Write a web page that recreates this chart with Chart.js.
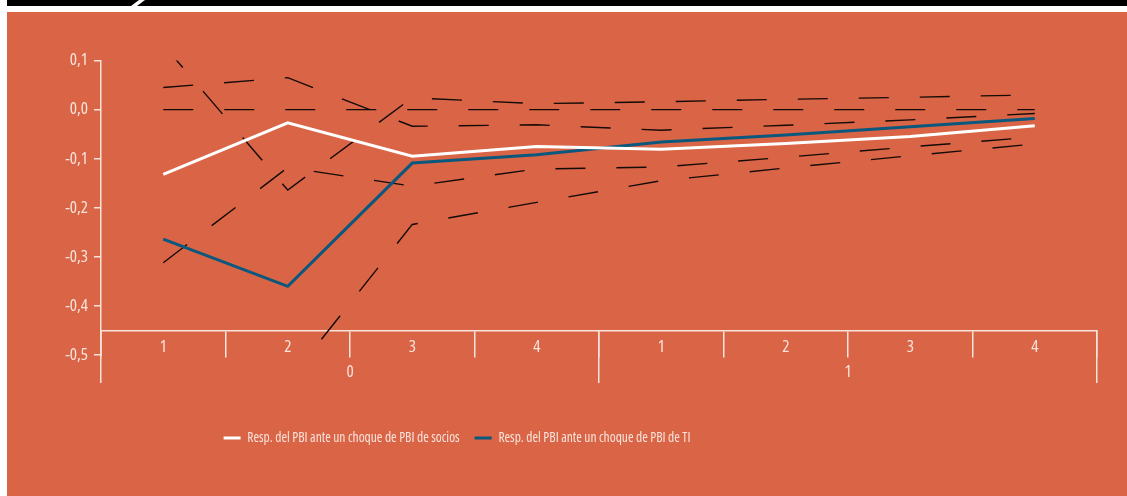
<!DOCTYPE html>
<html lang="es">
<head>
<meta charset="utf-8">
<title>Respuesta del PBI</title>
<script src="https://cdn.jsdelivr.net/npm/chart.js@4.4.1/dist/chart.umd.min.js"></script>
<style>
  html, body { margin: 0; padding: 0; background: #fff; }
  body { width: 1127px; height: 496px; position: relative; overflow: hidden; }
  .franja { position: absolute; left: 7px; top: 0; width: 1120px; height: 6px; background: #000; }
  .corte { position: absolute; left: 128px; top: 0; width: 6px; height: 6px; background: #fff; transform: skewX(-53deg); }
  .panel { position: absolute; left: 7px; top: 12px; width: 1120px; height: 484px; background: #D96446; }
</style>
</head>
<body>
<div class="franja"><div class="corte"></div></div>
<div class="panel"><canvas id="grafico" width="1120" height="484"></canvas></div>
<script>
// trimestres y años del eje x
const trimestres = ["1", "2", "3", "4", "1", "2", "3", "4"];
const anios = ["0", "1"];
const yTicks = [-0.5, -0.4, -0.3, -0.2, -0.1, 0, 0.1];

// respuestas (lineas solidas)
const respSocios = [-0.132, -0.027, -0.095, -0.075, -0.081, -0.069, -0.055, -0.033];
const respTI = [-0.264, -0.360, -0.109, -0.092, -0.066, -0.052, -0.035, -0.018];

// bandas (lineas punteadas)
const bandaA = [0.045, 0.065, -0.034, -0.031, -0.042, -0.032, -0.021, -0.008];
const bandaB = [0.132, -0.164, 0.024, 0.012, 0.016, 0.021, 0.025, 0.030];
const bandaC = [-0.312, -0.118, -0.156, -0.121, -0.117, -0.097, -0.076, -0.056];
const bandaD = [-0.620, -0.555, -0.234, -0.189, -0.145, -0.119, -0.094, -0.070];
const cero = [0, 0, 0, 0, 0, 0, 0, 0];

const claro = "#F9E4DC";
// Open Sans con ancho condensado (va en el shorthand del font)
const letra = (size) => ({ family: "'Open Sans', sans-serif", weight: "normal condensed", size });

const banda = (data) => ({
  data,
  borderColor: "#140b06",
  borderWidth: 1.4,
  borderDash: [30, 31],
  pointRadius: 0,
  fill: false,
});

// la leyenda no esta centrada en el original
const moverLeyenda = {
  id: "moverLeyenda",
  afterLayout(chart) {
    const ley = chart.legend;
    ley.left -= 95;
    ley.right -= 95;
  },
};

new Chart(document.getElementById("grafico"), {
  type: "line",
  data: {
    labels: trimestres,
    datasets: [
      {
        label: "Resp. del PBI ante un choque de PBI de socios",
        data: respSocios,
        borderColor: "#FFFFFF",
        backgroundColor: "#FFFFFF",
        borderWidth: 3,
        pointRadius: 0,
      },
      {
        label: "Resp. del PBI ante un choque de PBI de TI",
        data: respTI,
        borderColor: "#0A587E",
        backgroundColor: "#0A587E",
        borderWidth: 3,
        pointRadius: 0,
      },
      banda(bandaA),
      banda(bandaB),
      banda(bandaC),
      banda(bandaD),
      banda(cero),
    ],
  },
  options: {
    responsive: false,
    animation: false,
    events: [],
    layout: { padding: { top: 48.5, right: 30, bottom: 41.25, left: 0 } },
    scales: {
      y: {
        min: -0.5,
        max: 0.1,
        afterBuildTicks: (axis) => {
          axis.ticks = yTicks.map((v) => ({ value: v }));
        },
        afterFit: (s) => {
          s.width = 94;
        },
        grid: { drawOnChartArea: false, tickLength: 7, color: claro, lineWidth: 1.5 },
        border: { color: claro, width: 1.5 },
        ticks: {
          color: claro,
          padding: 6,
          font: letra(17),
          callback: (v) => v.toFixed(1).replace(".", ","),
        },
      },
      x: {
        type: "category",
        position: { y: -0.45 },
        offset: true,
        grid: { offset: true, drawOnChartArea: false, tickLength: 26, color: claro, lineWidth: 1.5 },
        border: { color: claro, width: 1.5 },
        ticks: { color: claro, padding: -20, autoSkip: false, maxRotation: 0, font: letra(17) },
      },
      x2: {
        type: "category",
        labels: anios,
        position: { y: -0.45 },
        offset: true,
        grid: { offset: true, drawOnChartArea: false, tickLength: 53, color: claro, lineWidth: 1.5 },
        border: { display: false },
        ticks: { color: claro, padding: -22, maxRotation: 0, font: letra(17) },
      },
      // solo reserva espacio sobre la leyenda
      espacio: {
        type: "category",
        labels: anios,
        position: "bottom",
        grid: { display: false },
        border: { display: false },
        ticks: { display: false },
        afterFit: (s) => {
          s.height = 61.25;
        },
      },
    },
    plugins: {
      tooltip: { enabled: false },
      legend: {
        position: "bottom",
        labels: {
          color: claro,
          boxWidth: 17,
          boxHeight: 3,
          padding: 15,
          font: letra(13.5),
          generateLabels: (chart) =>
            Chart.defaults.plugins.legend.labels
              .generateLabels(chart)
              .filter((l) => l.datasetIndex < 2)
              .map((l) => ({ ...l, fillStyle: l.strokeStyle, lineWidth: 0 })),
        },
      },
    },
  },
  plugins: [moverLeyenda],
});
</script>
</body>
</html>
